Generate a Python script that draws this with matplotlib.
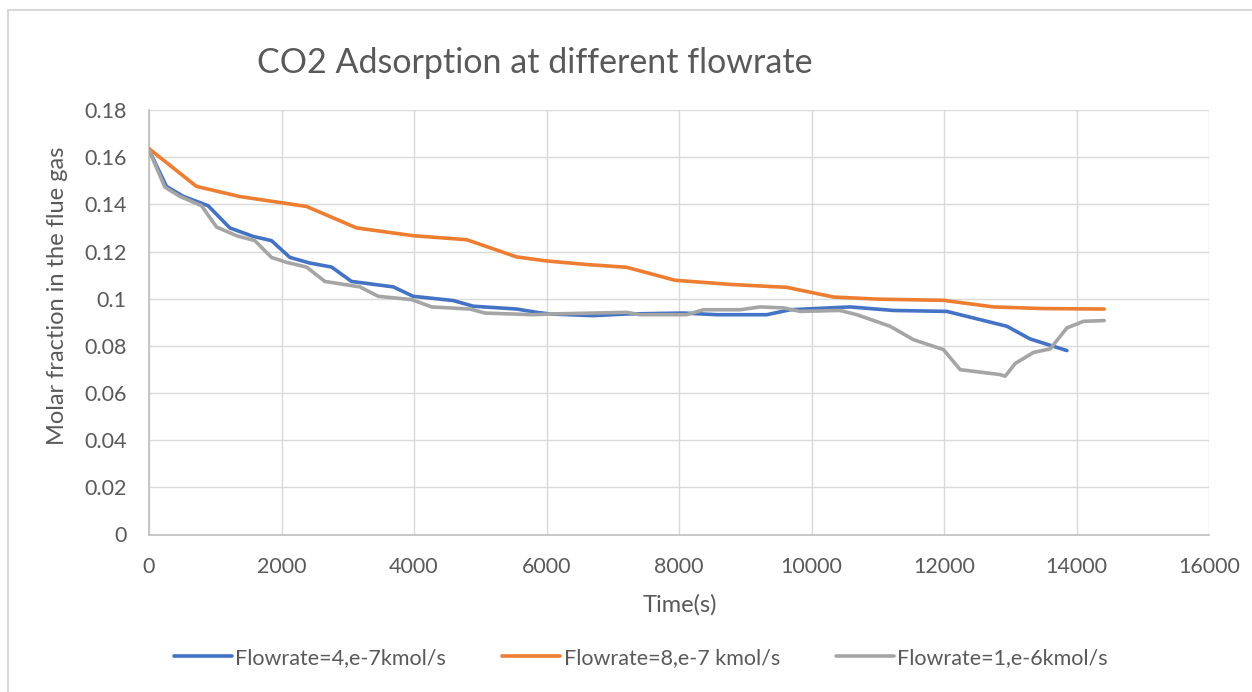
import matplotlib
matplotlib.use("Agg")
import matplotlib.pyplot as plt
from matplotlib.patches import Rectangle

# ---- data ----
blue_t = [0, 264, 515, 893, 1220, 1572, 1849, 2126, 2428, 2756, 3058, 3687, 3988, 4593, 4895,
          5550, 5852, 6052, 6707, 7200, 8066, 8570, 9325, 9677, 10583, 11237, 12043, 12647,
          12949, 13301, 13855]
blue_v = [0.163, 0.1476, 0.1434, 0.1394, 0.1300, 0.1264, 0.1246, 0.1175, 0.1151, 0.1134, 0.1073,
          0.1050, 0.1010, 0.0992, 0.0968, 0.0956, 0.0942, 0.0935, 0.0928, 0.0935, 0.0939, 0.0932,
          0.0932, 0.0953, 0.0965, 0.0950, 0.0946, 0.0904, 0.0883, 0.0829, 0.0780]

orange_t = [0, 717, 1371, 2378, 3133, 3988, 4795, 5550, 6000, 6600, 7211, 7940, 8800, 9627,
            10331, 11000, 11992, 12747, 13500, 14418]
orange_v = [0.1636, 0.1476, 0.1433, 0.1391, 0.1300, 0.1267, 0.1250, 0.1177, 0.1160, 0.1145,
            0.1133, 0.1078, 0.1060, 0.1048, 0.1007, 0.0998, 0.0993, 0.0965, 0.0958, 0.0956]

gray_t = [0, 239, 465, 793, 1019, 1321, 1598, 1849, 2076, 2378, 2655, 3183, 3460, 3964, 4266,
          4845, 5071, 5800, 6052, 7211, 7412, 8117, 8368, 8922, 9224, 9576, 9828, 10432, 10684,
          11187, 11539, 11992, 12244, 12848, 12923, 13074, 13351, 13603, 13855, 14106, 14418]
gray_v = [0.163, 0.1473, 0.1434, 0.1394, 0.1304, 0.1267, 0.1246, 0.1175, 0.1154, 0.1134, 0.1073,
          0.1050, 0.1010, 0.0996, 0.0965, 0.0956, 0.0939, 0.0932, 0.0935, 0.0942, 0.0932, 0.0932,
          0.0953, 0.0953, 0.0965, 0.0961, 0.0946, 0.0950, 0.0932, 0.0883, 0.0826, 0.0784, 0.0699,
          0.0678, 0.0671, 0.0725, 0.0772, 0.0787, 0.0876, 0.0904, 0.0907]

series_labels = ["Flowrate=4,e-7kmol/s", "Flowrate=8,e-7 kmol/s", "Flowrate=1,e-6kmol/s"]
title = "CO2 Adsorption at different flowrate"
xlabel = "Time(s)"
ylabel = "Molar fraction in the flue gas"
xticks = [0, 2000, 4000, 6000, 8000, 10000, 12000, 14000, 16000]
yticks = [0, 0.02, 0.04, 0.06, 0.08, 0.1, 0.12, 0.14, 0.16, 0.18]
ytick_labels = ["0", "0.02", "0.04", "0.06", "0.08", "0.1", "0.12", "0.14", "0.16", "0.18"]

# ---- styling ----
W, H = 1252, 692
TXT = "#595959"
plt.rcParams['font.family'] = ['Lato', 'DejaVu Sans']

fig = plt.figure(figsize=(W / 100, H / 100), dpi=100)
fig.patch.set_facecolor("white")

# chart border
fig.patches.append(Rectangle((8 / W, -0.05), 1.2, 1 - 10 / H + 0.05, transform=fig.transFigure,
                             fill=False, edgecolor="#D9D9D9", linewidth=1.5))

ax = fig.add_axes([149 / W, 1 - 534.5 / H, (1209 - 149) / W, (534.5 - 110) / H])
LW = 2.6
ax.plot(blue_t, blue_v, color="#4472C4", lw=LW, label=series_labels[0],
        solid_joinstyle="round", solid_capstyle="round", zorder=3)
ax.plot(orange_t, orange_v, color="#ED7D31", lw=LW, label=series_labels[1],
        solid_joinstyle="round", solid_capstyle="round", zorder=3)
ax.plot(gray_t, gray_v, color="#A5A5A5", lw=LW, label=series_labels[2],
        solid_joinstyle="round", solid_capstyle="round", zorder=3)

ax.set_xlim(0, 16000)
ax.set_ylim(0, 0.18)
ax.set_xticks(xticks)
ax.set_xticklabels([str(t) for t in xticks])
ax.set_yticks(yticks)
ax.set_yticklabels(ytick_labels)
ax.grid(True, color="#D9D9D9", lw=1.0)
ax.set_axisbelow(True)
for s in ["top", "right"]:
    ax.spines[s].set_visible(False)
for s in ["left", "bottom"]:
    ax.spines[s].set_color("#BFBFBF")
    ax.spines[s].set_linewidth(1.2)
ax.tick_params(length=0, labelsize=15.5, colors=TXT)
ax.tick_params(axis="x", pad=16)
ax.tick_params(axis="y", pad=16)

fig.text(535 / W, 1 - 63 / H, title, ha="center", va="center", fontsize=24.5, color=TXT)
fig.text(680 / W, 1 - 605 / H, xlabel, ha="center", va="center", fontsize=17, color=TXT)
fig.text(57 / W, 1 - 296 / H, ylabel, ha="center", va="center", fontsize=17, color=TXT,
         rotation=90)

leg = fig.legend(loc="center", bbox_to_anchor=(641 / W, 1 - 658 / H), ncol=3, frameon=False,
                 fontsize=15.5, handlelength=2.7, handletextpad=0.15, columnspacing=2.6,
                 labelcolor=TXT)

fig.savefig("out.png", dpi=100, facecolor="white")
